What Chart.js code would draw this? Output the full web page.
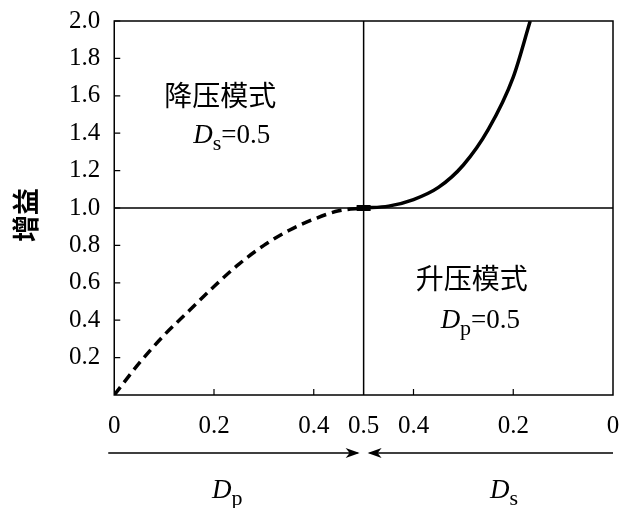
<!DOCTYPE html>
<html><head><meta charset="utf-8">
<script src="https://cdn.jsdelivr.net/npm/chart.js@4"></script>
<style>html,body{margin:0;padding:0;background:#fff}#w{width:621px;height:508px}</style>
</head><body><div id="w"><canvas id="c"></canvas></div>
<script>
// x position 0..1: left half Dp = x, right half Ds = 1 - x
const buckX = [0,0.05,0.1,0.15,0.2,0.25,0.3,0.35,0.4,0.45,0.5];
const buckGain = [0,0.17,0.32,0.45,0.58,0.70,0.80,0.88,0.94,0.985,1.0];
const boostX = [0.5,0.55,0.6,0.65,0.7,0.75,0.8,0.834];
const boostGain = [1.0,1.01,1.045,1.11,1.23,1.42,1.70,2.0];
const xTickLabels = {0:'0',0.2:'0.2',0.4:'0.4',0.5:'0.5',0.6:'0.4',0.8:'0.2',1:'0'};
const SERIF = '"Liberation Serif","DejaVu Serif",serif';
const CJK = '"Noto Sans CJK SC",sans-serif';

const deco = {
  id:'deco',
  afterDraw(ch){
    const c=ch.ctx, a=ch.chartArea, xs=ch.scales.x, ys=ch.scales.y;
    c.save();
    c.strokeStyle='#000'; c.lineWidth=1.5;
    c.strokeRect(a.left,a.top,a.right-a.left,a.bottom-a.top);
    const xm=xs.getPixelForValue(0.5), y1=ys.getPixelForValue(1);
    c.beginPath(); c.moveTo(xm,a.top); c.lineTo(xm,a.bottom);
    c.moveTo(a.left,y1); c.lineTo(a.right,y1); c.stroke();
    c.lineWidth=1.2; c.beginPath();
    for(let v=0.2;v<2.01;v+=0.2){const y=ys.getPixelForValue(v);c.moveTo(a.left,y);c.lineTo(a.left+6,y);}
    [0.2,0.4,0.6,0.8].forEach(v=>{const x=xs.getPixelForValue(v);c.moveTo(x,a.bottom);c.lineTo(x,a.bottom-6);});
    c.stroke();
    c.fillStyle='#000'; c.fillRect(xm-7,y1-3,14,6);
    const ay=a.bottom+58;
    c.lineWidth=1.3; c.beginPath();
    c.moveTo(a.left-6,ay); c.lineTo(xm-6,ay);
    c.moveTo(a.right,ay); c.lineTo(xm+6,ay); c.stroke();
    c.beginPath(); c.moveTo(xm-4,ay); c.lineTo(xm-18,ay-5); c.lineTo(xm-14,ay); c.lineTo(xm-18,ay+5); c.closePath(); c.fill();
    c.beginPath(); c.moveTo(xm+4,ay); c.lineTo(xm+18,ay-5); c.lineTo(xm+14,ay); c.lineTo(xm+18,ay+5); c.closePath(); c.fill();
    c.textBaseline='alphabetic'; c.textAlign='left';
    function sub(txt,subt,rest,x,y){
      c.font='italic 27px '+SERIF; c.fillText(txt,x,y); let w=c.measureText(txt).width;
      c.font='22px '+SERIF; c.fillText(subt,x+w,y+7); w+=c.measureText(subt).width;
      if(rest){c.font='27px '+SERIF; c.fillText(rest,x+w,y);}
    }
    c.font='28px '+CJK; c.fillText('降压模式',a.left+50,106);
    sub('D','s','=0.5',a.left+79,143);
    c.font='28px '+CJK; c.fillText('升压模式',xm+52,289);
    sub('D','p','=0.5',xm+77,328);
    sub('D','p','',212,498);
    sub('D','s','',490,498);
    c.save(); c.translate(26,215); c.rotate(-Math.PI/2); c.textAlign='center';
    c.font='bold 27px '+CJK; c.fillText('增益',0,10); c.restore();
    c.restore();
  }
};

new Chart(document.getElementById('c'),{
  type:'scatter',
  data:{datasets:[
    {data:buckX.map((x,i)=>({x,y:buckGain[i]})),showLine:true,borderColor:'#000',borderWidth:3.5,borderDash:[10,6],pointRadius:0,cubicInterpolationMode:'monotone'},
    {data:boostX.map((x,i)=>({x,y:boostGain[i]})),showLine:true,borderColor:'#000',borderWidth:3.5,pointRadius:0,cubicInterpolationMode:'monotone'}
  ]},
  options:{
    responsive:true,maintainAspectRatio:false,animation:false,
    layout:{padding:{left:63,right:8,top:14,bottom:59}},
    plugins:{legend:{display:false},tooltip:{enabled:false}},
    scales:{
      x:{type:'linear',min:0,max:1,grid:{display:false},border:{display:false},
        afterBuildTicks(s){s.ticks=Object.keys(xTickLabels).map(v=>({value:+v}));},
        ticks:{autoSkip:false,maxRotation:0,color:'#000',font:{family:SERIF,size:25},padding:8,
          callback:v=>xTickLabels[Math.round(v*10)/10]??''}},
      y:{min:0,max:2,grid:{display:false},border:{display:false},
        ticks:{stepSize:0.2,color:'#000',font:{family:SERIF,size:25},padding:6,
          callback:v=>v<0.01?'':v.toFixed(1)}}
    }
  },
  plugins:[deco]
});
</script></body></html>
